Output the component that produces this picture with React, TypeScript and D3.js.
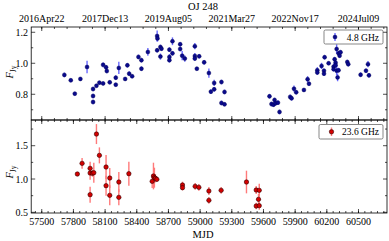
import React from "react";
import * as d3 from "d3";

const W = 389;
const H = 241;

// 4.8 GHz series
const mjd48 = [
  57714, 57775, 57813, 57866, 57929, 57986, 57986, 57986, 58018, 58046,
  58081, 58081, 58109, 58116, 58144, 58201, 58201, 58230, 58290, 58311,
  58328, 58356, 58416, 58444, 58444, 58505, 58593, 58596, 58593, 58624,
  58624, 58634, 58709, 58709, 58709, 58738, 58738, 58811, 58811, 58830,
  58855, 58950, 58950, 58950, 58969, 58991, 59038, 59083, 59102, 59133,
  59133, 59202, 59202, 59231, 59231, 59657, 59676, 59695, 59705, 59714,
  59737, 59752, 59853, 59866, 59889, 59910, 59983, 60018, 60031, 60110,
  60110, 60150, 60173, 60173, 60179, 60217, 60264, 60264, 60274, 60283,
  60283, 60293, 60293, 60302, 60311, 60311, 60321, 60330, 60394, 60403,
  60520, 60571, 60590, 60599,
];
const flux48 = [
  0.925, 0.89, 0.804, 0.899, 0.976, 0.834, 0.789, 0.75, 0.855, 0.875,
  0.99, 0.87, 0.974, 0.95, 0.877, 0.907, 0.862, 0.97, 0.899, 0.987,
  0.933, 0.916, 1.041, 1.02, 0.965, 1.073, 1.176, 1.16, 1.084, 1.105,
  1.043, 1.094, 1.088, 1.04, 1.02, 1.142, 1.064, 1.123, 1.092, 1.049,
  1.03, 1.11, 1.047, 1.03, 0.965, 1.045, 1.006, 0.937, 0.817, 0.873,
  0.832, 0.879, 0.744, 0.815, 0.735, 0.787, 0.737, 0.733, 0.763, 0.742,
  0.746, 0.686, 0.783, 0.774, 0.836, 0.813, 0.828, 0.897, 0.868, 0.955,
  0.94, 0.983, 0.952, 0.933, 1.039, 1.0, 0.978, 0.962, 1.026, 1.004,
  0.987, 1.092, 0.952, 0.909, 1.064, 0.955, 1.049, 1.071, 1.008, 0.994,
  0.926, 0.952, 0.994, 0.922,
];
const err48 = [
  0.015, 0.012, 0.012, 0.012, 0.04, 0.015, 0.015, 0.015, 0.012, 0.012,
  0.015, 0.012, 0.015, 0.015, 0.012, 0.015, 0.012, 0.04, 0.012, 0.015,
  0.015, 0.012, 0.015, 0.015, 0.015, 0.025, 0.035, 0.02, 0.015, 0.015,
  0.02, 0.015, 0.015, 0.02, 0.015, 0.025, 0.015, 0.015, 0.015, 0.03,
  0.02, 0.02, 0.02, 0.015, 0.012, 0.015, 0.015, 0.03, 0.015, 0.02,
  0.015, 0.015, 0.015, 0.015, 0.012, 0.015, 0.015, 0.015, 0.015, 0.015,
  0.015, 0.015, 0.015, 0.015, 0.02, 0.015, 0.012, 0.02, 0.015, 0.02,
  0.015, 0.02, 0.015, 0.015, 0.015, 0.012, 0.02, 0.015, 0.015, 0.015,
  0.015, 0.03, 0.03, 0.025, 0.015, 0.015, 0.015, 0.015, 0.015, 0.015,
  0.015, 0.015, 0.02, 0.015,
];

// 23.6 GHz series
const mjd24 = [
  57837, 57882, 57958, 57958, 57958, 57980, 57993, 58018, 58046, 58109,
  58109, 58144, 58144, 58230, 58230, 58325, 58546, 58558, 58567, 58577,
  58590, 58833, 58833, 58953, 58988, 59083, 59083, 59199, 59439, 59531,
  59560, 59553, 59531, 59560,
];
const flux24 = [
  1.075, 1.235, 1.16, 1.09, 0.765, 1.085, 1.095, 1.675, 1.355, 1.18,
  0.9, 1.015, 0.755, 0.955, 0.725, 1.08, 0.965, 1.045, 1.02, 1.01,
  0.995, 0.91, 0.87, 0.89, 0.875, 0.82, 0.68, 0.83, 0.955, 0.835,
  0.83, 0.695, 0.595, 0.6,
];
const err24 = [
  0.03, 0.08, 0.1, 0.1, 0.12, 0.05, 0.15, 0.15, 0.12, 0.18,
  0.15, 0.15, 0.15, 0.15, 0.12, 0.18, 0.1, 0.2, 0.15, 0.06,
  0.04, 0.05, 0.04, 0.05, 0.05, 0.06, 0.05, 0.05, 0.17, 0.06,
  0.1, 0.08, 0.05, 0.06,
];

const mjdTicks = [57500, 57800, 58100, 58400, 58700, 59000, 59300, 59600, 59900, 60200, 60500];
const dateTickMjd = [57500, 58100, 58700, 59300, 59900, 60500];
const dateTickLabels = ["2016Apr22", "2017Dec13", "2019Aug05", "2021Mar27", "2022Nov17", "2024Jul09"];
const topYTicks = [0.8, 1.0, 1.2];
const topYMinor = [0.7, 0.9, 1.1];
const botYTicks = [0.5, 1.0, 1.5];
const botYMinor = [0.75, 1.25, 1.75];

const title = "OJ 248";
const legend48 = "4.8 GHz";
const legend24 = "23.6 GHz";
const xLabel = "MJD";

const FONT = "'Liberation Serif', 'DejaVu Serif', serif";

export default function App() {
  const xL = 31.2, xR = 387;
  const topY0 = 27, mid = 120, botY1 = 213;
  const x = d3.scaleLinear().domain([57400, 60770]).range([xL, xR]);
  const yT = d3.scaleLinear().domain([0.634, 1.234]).range([mid, topY0]);
  const yB = d3.scaleLinear().domain([0.49, 1.886]).range([botY1, mid]);

  const [d0, d1] = x.domain();
  const range = (start: number, step: number) => {
    const out: number[] = [];
    for (let v = start; v <= d1; v += step) if (v >= d0) out.push(v);
    return out;
  };
  const minor60 = range(57440, 60);
  const minor120 = range(57500 - 120 * 0, 120);
  const major600 = dateTickMjd;

  const tickV = (vals: number[], y: number, len: number, key: string) =>
    vals.map((v, i) => (
      <line key={key + i} x1={x(v)} x2={x(v)} y1={y} y2={y + len} stroke="#000" strokeWidth={0.7} />
    ));
  const tickH = (vals: number[], sc: any, xx: number, len: number, key: string) =>
    vals.map((v, i) => (
      <line key={key + i} x1={xx} x2={xx + len} y1={sc(v)} y2={sc(v)} stroke="#000" strokeWidth={0.7} />
    ));

  return (
    <svg
      width={W}
      height={H}
      style={{ position: "absolute", left: 0, top: 0, background: "#fff" }}
      fontFamily={FONT}
    >
      <rect x={0} y={0} width={W} height={H} fill="#fff" />
      {/* title */}
      <text x={203} y={10} fontSize={10.5} textAnchor="middle">{title}</text>

      {/* frames */}
      <rect x={xL} y={topY0} width={xR - xL} height={mid - topY0} fill="none" stroke="#000" strokeWidth={0.8} />
      <rect x={xL} y={mid} width={xR - xL} height={botY1 - mid} fill="none" stroke="#000" strokeWidth={0.8} />

      {/* top panel top axis: date ticks */}
      {tickV(major600, topY0, 4, "tdM")}
      {tickV(minor120, topY0, 2, "tdm")}
      {dateTickMjd.map((m, i) => (
        <text key={"dl" + i} x={x(m)} y={22} fontSize={10} textAnchor="middle">{dateTickLabels[i]}</text>
      ))}
      {/* top panel bottom axis */}
      {tickV(major600, mid, -4, "tbM")}
      {tickV(minor120, mid, -2, "tbm")}
      {/* bottom panel top axis */}
      {tickV(mjdTicks, mid, 4, "btM")}
      {tickV(minor60, mid, 2, "btm")}
      {/* bottom panel bottom axis */}
      {tickV(mjdTicks, botY1, -4, "bbM")}
      {tickV(minor60, botY1, -2, "bbm")}
      {mjdTicks.map((m, i) => (
        <text key={"ml" + i} x={x(m)} y={225} fontSize={10} textAnchor="middle">{m}</text>
      ))}
      <text x={203} y={238} fontSize={10.5} textAnchor="middle">{xLabel}</text>

      {/* y ticks top */}
      {tickH(topYTicks, yT, xL, 4, "ytl")}
      {tickH(topYMinor, yT, xL, 2, "ytlm")}
      {tickH(topYTicks, yT, xR, -4, "ytr")}
      {tickH(topYMinor, yT, xR, -2, "ytrm")}
      {topYTicks.map((v, i) => (
        <text key={"ytt" + i} x={28} y={yT(v) + 3.5} fontSize={10} textAnchor="end">{v.toFixed(1)}</text>
      ))}
      {/* y ticks bottom */}
      {tickH(botYTicks, yB, xL, 4, "ybl")}
      {tickH(botYMinor, yB, xL, 2, "yblm")}
      {tickH(botYTicks, yB, xR, -4, "ybr")}
      {tickH(botYMinor, yB, xR, -2, "ybrm")}
      {botYTicks.map((v, i) => (
        <text key={"ybt" + i} x={28} y={yB(v) + 3.5} fontSize={10} textAnchor="end">{v.toFixed(1)}</text>
      ))}

      {/* y labels */}
      {[72, 172].map((cy, i) => (
        <text key={"yl" + i} transform={`translate(13,${cy}) rotate(-90)`} fontSize={10.5} textAnchor="middle">
          <tspan fontStyle="italic">F</tspan>
          <tspan fontSize={7.5} dy={2.5}>Jy</tspan>
        </text>
      ))}

      {/* 4.8 GHz data */}
      <g>
        {mjd48.map((m, i) => (
          <line key={"e48" + i} x1={x(m)} x2={x(m)} y1={yT(flux48[i] - err48[i])} y2={yT(flux48[i] + err48[i])}
            stroke="#6a6aff" strokeWidth={1.4} />
        ))}
        {mjd48.map((m, i) => (
          <circle key={"p48" + i} cx={x(m)} cy={yT(flux48[i])} r={2} fill="#0a0a8c" stroke="#000050" strokeWidth={0.4} />
        ))}
      </g>

      {/* 23.6 GHz data */}
      <g>
        {mjd24.map((m, i) => (
          <line key={"e24" + i} x1={x(m)} x2={x(m)} y1={yB(flux24[i] - err24[i])} y2={yB(flux24[i] + err24[i])}
            stroke="#ff7a7a" strokeWidth={1.4} />
        ))}
        {mjd24.map((m, i) => (
          <circle key={"p24" + i} cx={x(m)} cy={yB(flux24[i])} r={2.2} fill="#d40000" stroke="#300" strokeWidth={0.6} />
        ))}
      </g>

      {/* legends */}
      <g>
        <rect x={324} y={30} width={59} height={14} rx={1.5} fill="#fff" stroke="#555" strokeWidth={0.7} />
        <line x1={335} x2={335} y1={33} y2={41} stroke="#6a6aff" strokeWidth={1.4} />
        <circle cx={335} cy={37} r={2} fill="#0a0a8c" stroke="#000050" strokeWidth={0.4} />
        <text x={379} y={40.5} fontSize={9.5} textAnchor="end">{legend48}</text>
      </g>
      <g>
        <rect x={319} y={124.5} width={64} height={14.5} rx={1.5} fill="#fff" stroke="#555" strokeWidth={0.7} />
        <line x1={331.5} x2={331.5} y1={127.5} y2={136} stroke="#ff7a7a" strokeWidth={1.4} />
        <circle cx={331.5} cy={131.8} r={2.2} fill="#d40000" stroke="#300" strokeWidth={0.6} />
        <text x={379} y={135.3} fontSize={9.5} textAnchor="end">{legend24}</text>
      </g>
    </svg>
  );
}
